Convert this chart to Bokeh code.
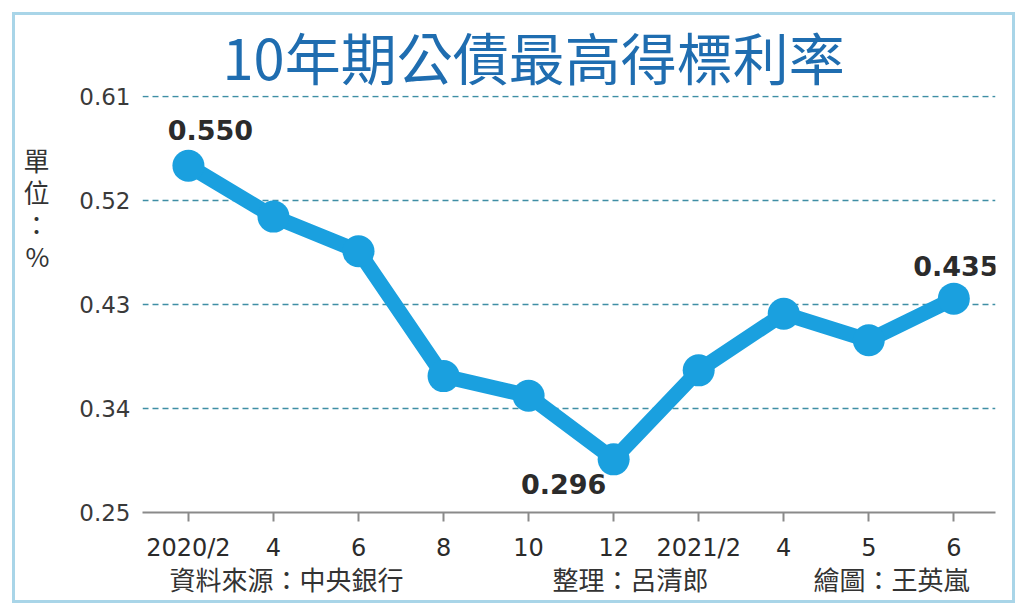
from bokeh.plotting import figure
from bokeh.models import (FixedTicker, ColumnDataSource, LinearAxis, Range1d,
                          InlineStyleSheet)
from bokeh.core.properties import value
from bokeh.embed import file_html
from bokeh.resources import INLINE

# ---- data ----
categories = ["2020/2", "4", "6", "8", "10", "12", "2021/2", "4", "5", "6"]
rates = [0.550, 0.506, 0.476, 0.368, 0.351, 0.296, 0.373, 0.422, 0.399, 0.435]
y_ticks = [0.25, 0.34, 0.43, 0.52, 0.61]
labeled_idx = [0, 5, 9]
title_text = "10年期公債最高得標利率"
footer_texts = ["資料來源：中央銀行", "整理：呂清郎", "繪圖：王英嵐"]
unit_chars = ["單", "位", "：", "%"]

# ---- layout (pixels) ----
W, H = 1020, 606
FL, FR, FT, FB = 142, 995, 95, 512          # frame edges
footer_pos = [286, 630, 891]               # footer text centres (x)
unit_pos = [159, 191, 223, 255]            # unit char centres (y)

LINE_BLUE = "#1aa0df"
TEXT = "#2b2b2b"
CJK = "Noto Sans CJK TC"
NUM = "DejaVu Sans"

xs = list(range(len(categories)))
x0, x1 = -0.54, len(categories) - 1 + 0.49
y0, y1 = y_ticks[0], y_ticks[-1] + 0.0008

p = figure(width=W, height=H, output_backend="svg", toolbar_location=None,
           x_range=(x0, x1), y_range=(y0, y1),
           min_border_left=FL, min_border_right=W - FR, min_border_top=FT,
           min_border_bottom=H - FB)
p.outline_line_color = None
p.background_fill_color = "white"
p.border_fill_color = "white"

# title
p.title.text = title_text
p.title.align = "left"
p.title.offset = 80
p.title.standoff = 0
p.title.text_font = CJK
p.title.text_font_size = "56px"
p.title.text_font_style = "normal"
p.title.text_line_height = 0.9
p.title.text_color = "#1f6db0"

# axes
p.xaxis.ticker = FixedTicker(ticks=xs)
p.xaxis.major_label_overrides = {i: c for i, c in enumerate(categories)}
p.xaxis.axis_line_color = "#8a8a8a"
p.xaxis.axis_line_width = 2
p.xaxis.major_tick_line_color = "#8a8a8a"
p.xaxis.major_tick_line_width = 2
p.xaxis.major_tick_in = 0
p.xaxis.major_tick_out = 9
p.xaxis.minor_tick_line_color = None
p.xaxis.major_label_text_font = NUM
p.xaxis.major_label_text_font_size = "24px"
p.xaxis.major_label_text_color = TEXT
p.xaxis.major_label_standoff = 12

p.yaxis.ticker = FixedTicker(ticks=y_ticks)
p.yaxis.axis_line_color = None
p.yaxis.major_tick_line_color = None
p.yaxis.minor_tick_line_color = None
p.yaxis.major_label_text_font = NUM
p.yaxis.major_label_text_font_size = "23px"
p.yaxis.major_label_text_color = "#3a3a3a"
p.yaxis.major_label_standoff = 6

p.xgrid.grid_line_color = None
p.ygrid.ticker = FixedTicker(ticks=y_ticks[1:])
p.ygrid.grid_line_color = "#3f8ea5"
p.ygrid.grid_line_width = 1.5
p.ygrid.grid_line_dash = "6 4"

# footer as a tick-less axis in pixel coordinates
p.extra_x_ranges = {"px": Range1d(FL, FR)}
foot = LinearAxis(x_range_name="px", ticker=FixedTicker(ticks=footer_pos),
                  major_label_overrides={pos: t for pos, t in zip(footer_pos, footer_texts)},
                  axis_line_color=None, major_tick_line_color=None, minor_tick_line_color=None,
                  major_tick_in=0, major_tick_out=0, minor_tick_in=0, minor_tick_out=0,
                  major_label_standoff=-5, major_label_text_font=CJK,
                  major_label_text_font_size="26px", major_label_text_color="#333333")
p.add_layout(foot, "below")

# unit label as a tick-less axis in pixel coordinates
p.extra_y_ranges = {"py": Range1d(FB, FT)}
unit = LinearAxis(y_range_name="py", ticker=FixedTicker(ticks=unit_pos),
                  major_label_overrides={pos: t for pos, t in zip(unit_pos, unit_chars)},
                  axis_line_color=None, major_tick_line_color=None, minor_tick_line_color=None,
                  major_tick_in=0, major_tick_out=0, minor_tick_in=0, minor_tick_out=0,
                  major_label_standoff=27, major_label_text_font=CJK,
                  major_label_text_font_size="26px", major_label_text_color="#333333")
p.add_layout(unit, "left")

# line + markers
src = ColumnDataSource(dict(x=xs, y=rates))
p.line("x", "y", source=src, line_color=LINE_BLUE, line_width=15, line_join="round")
p.scatter("x", "y", source=src, size=32, fill_color=LINE_BLUE, line_color=None)

# data labels
offs = {0: (22, -36), 5: (-50, 25), 9: (2, -33)}
lab = ColumnDataSource(dict(
    x=[xs[i] for i in labeled_idx],
    y=[rates[i] for i in labeled_idx],
    t=[f"{rates[i]:.3f}" for i in labeled_idx],
    xo=[offs[i][0] for i in labeled_idx],
    yo=[offs[i][1] for i in labeled_idx],
))
p.text("x", "y", text="t", source=lab, x_offset="xo", y_offset="yo",
       text_font=value(NUM), text_font_style="bold", text_font_size="27px",
       text_color=TEXT, text_align="center", text_baseline="middle")

# outer light-blue frame drawn by the page stylesheet
p.stylesheets = [InlineStyleSheet(css=(
    ":host { position: relative; }"
    ":host::after { content: ''; position: absolute; left: 12px; top: 12px;"
    " width: 997px; height: 585px; border: 3px solid #a9d5e8;"
    " pointer-events: none; z-index: 10; }"))]

open("out.html", "w").write(file_html(p, INLINE))
